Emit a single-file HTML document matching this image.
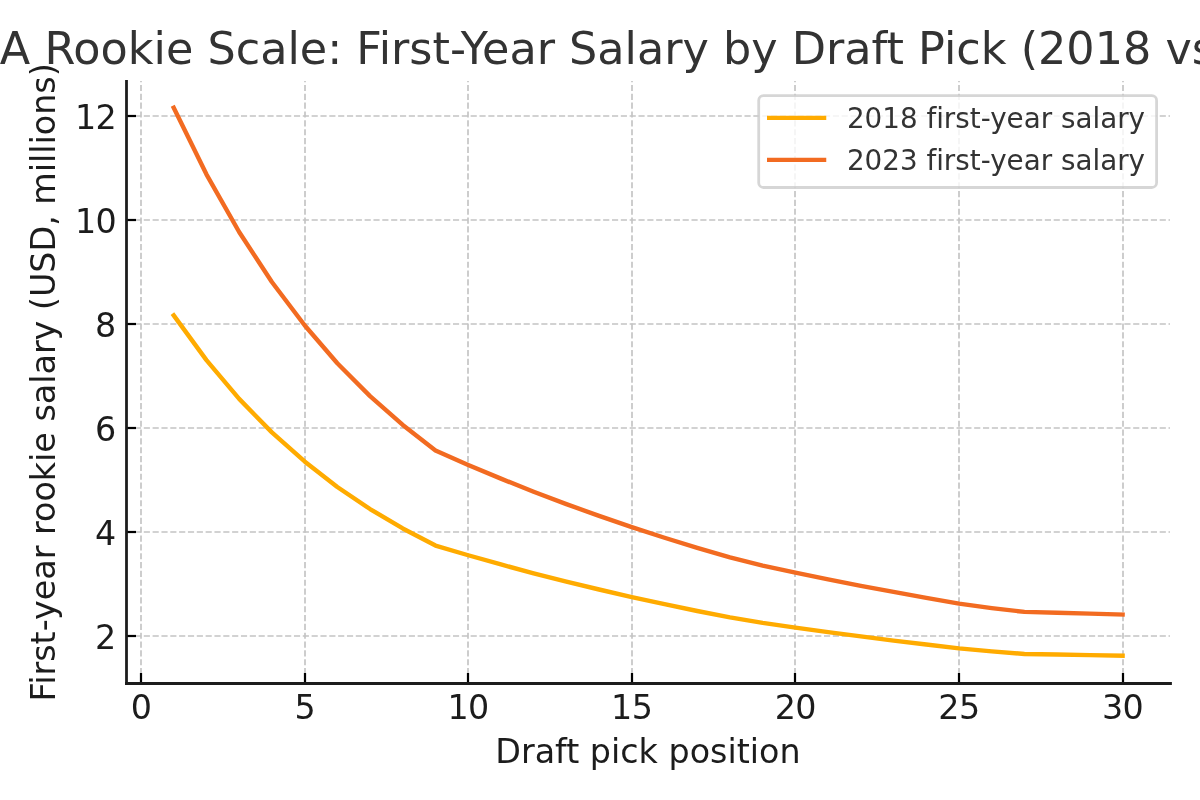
<!DOCTYPE html>
<html lang="en">
<head>
<meta charset="utf-8">
<title>NBA Rookie Scale: First-Year Salary by Draft Pick (2018 vs 2023)</title>
<style>
html,body{margin:0;padding:0;background:#fff;}
body{width:1200px;height:800px;overflow:hidden;}
svg{display:block;will-change:transform;}
svg text{font-family:"DejaVu Sans","Liberation Sans",sans-serif;filter:grayscale(1);font-variant-ligatures:none;font-feature-settings:"liga" 0,"clig" 0;}
</style>
</head>
<body>
<svg width="1200" height="800" viewBox="0 0 1200 800">
<rect x="0" y="0" width="1200" height="800" fill="#ffffff"/>
<g stroke="#c4c4c4" stroke-width="1.67" stroke-dasharray="6.167 2.667" fill="none">
<line x1="141.00" y1="683.00" x2="141.00" y2="81.00"/>
<line x1="305.00" y1="683.00" x2="305.00" y2="81.00"/>
<line x1="468.00" y1="683.00" x2="468.00" y2="81.00"/>
<line x1="632.00" y1="683.00" x2="632.00" y2="81.00"/>
<line x1="795.00" y1="683.00" x2="795.00" y2="81.00"/>
<line x1="959.00" y1="683.00" x2="959.00" y2="81.00"/>
<line x1="1123.00" y1="683.00" x2="1123.00" y2="81.00"/>
<line x1="126.10" y1="636.00" x2="1170.00" y2="636.00"/>
<line x1="126.10" y1="532.00" x2="1170.00" y2="532.00"/>
<line x1="126.10" y1="428.00" x2="1170.00" y2="428.00"/>
<line x1="126.10" y1="324.00" x2="1170.00" y2="324.00"/>
<line x1="126.10" y1="220.00" x2="1170.00" y2="220.00"/>
<line x1="126.10" y1="116.00" x2="1170.00" y2="116.00"/>
</g>
<polyline points="173.72,315.41 206.44,360.11 239.16,398.85 271.88,432.41 304.60,461.47 337.32,487.02 370.04,509.05 402.76,528.43 435.48,545.52 468.20,555.25 500.92,564.49 533.64,573.26 566.36,581.60 599.08,589.50 631.80,597.05 664.52,604.19 697.24,610.98 729.96,617.43 762.68,622.94 795.40,627.63 828.12,632.13 860.84,636.43 893.56,640.58 926.28,644.55 959.00,648.37 991.72,651.42 1024.44,653.97 1057.16,654.49 1089.88,655.12 1122.60,655.74" fill="none" stroke="#FFAB00" stroke-width="4.4" stroke-linecap="square" stroke-linejoin="round"/>
<polyline points="173.72,107.74 206.44,174.30 239.16,231.98 271.88,281.97 304.60,325.23 337.32,363.28 370.04,396.10 402.76,424.95 435.48,450.40 468.20,464.89 500.92,478.64 533.64,491.70 566.36,504.12 599.08,515.90 631.80,527.13 664.52,537.77 697.24,547.88 729.96,557.48 762.68,565.70 795.40,572.68 828.12,579.37 860.84,585.79 893.56,591.95 926.28,597.87 959.00,603.57 991.72,608.09 1024.44,611.90 1057.16,612.69 1089.88,613.61 1122.60,614.52" fill="none" stroke="#F26B21" stroke-width="4.4" stroke-linecap="square" stroke-linejoin="round"/>
<g stroke="#000000" stroke-width="2.22" fill="none">
<line x1="141.00" y1="683.50" x2="141.00" y2="673.0"/>
<line x1="305.00" y1="683.50" x2="305.00" y2="673.0"/>
<line x1="468.00" y1="683.50" x2="468.00" y2="673.0"/>
<line x1="632.00" y1="683.50" x2="632.00" y2="673.0"/>
<line x1="795.00" y1="683.50" x2="795.00" y2="673.0"/>
<line x1="959.00" y1="683.50" x2="959.00" y2="673.0"/>
<line x1="1123.00" y1="683.50" x2="1123.00" y2="673.0"/>
<line x1="126.50" y1="636.00" x2="136.0" y2="636.00"/>
<line x1="126.50" y1="532.00" x2="136.0" y2="532.00"/>
<line x1="126.50" y1="428.00" x2="136.0" y2="428.00"/>
<line x1="126.50" y1="324.00" x2="136.0" y2="324.00"/>
<line x1="126.50" y1="220.00" x2="136.0" y2="220.00"/>
<line x1="126.50" y1="116.00" x2="136.0" y2="116.00"/>
</g>
<g stroke="#1c1c1c" stroke-width="2.78" stroke-linecap="square" fill="none">
<line x1="126.50" y1="683.50" x2="126.50" y2="81.50"/>
<line x1="126.50" y1="683.50" x2="1170.50" y2="683.50"/>
</g>
<g fill="#1c1c1c" font-size="33.33px">
<text x="141.40" y="718.6" text-anchor="middle">0</text>
<text x="305.00" y="718.6" text-anchor="middle">5</text>
<text x="468.10" y="718.6" text-anchor="middle" letter-spacing="-0.6">10</text>
<text x="631.70" y="718.6" text-anchor="middle" letter-spacing="-0.6">15</text>
<text x="795.30" y="718.6" text-anchor="middle" letter-spacing="-0.6">20</text>
<text x="958.90" y="718.6" text-anchor="middle" letter-spacing="-0.6">25</text>
<text x="1122.50" y="718.6" text-anchor="middle" letter-spacing="-0.6">30</text>
<text x="116.2" y="649.40" text-anchor="end">2</text>
<text x="116.2" y="545.40" text-anchor="end">4</text>
<text x="116.2" y="441.40" text-anchor="end">6</text>
<text x="116.2" y="337.40" text-anchor="end">8</text>
<text x="116.2" y="233.40" text-anchor="end" letter-spacing="-0.6">10</text>
<text x="116.2" y="129.40" text-anchor="end" letter-spacing="-0.6">12</text>
<text x="647.9" y="763.1" text-anchor="middle">Draft pick position</text>
<text transform="translate(54.5 382.4) rotate(-90)" text-anchor="middle">First-year rookie salary (USD, millions)</text>
</g>
<text x="647.85" y="63.7" text-anchor="middle" font-size="44.50px" fill="#333333">NBA Rookie Scale: First-Year Salary by Draft Pick (2018 vs 2023)</text>
<rect x="758.7" y="95.6" width="397.90" height="91.90" rx="4.8" ry="4.8" fill="#ffffff" fill-opacity="0.8" stroke="#cccccc" stroke-opacity="0.8" stroke-width="2.78"/>
<line x1="769.20" y1="117.9" x2="824.06" y2="117.9" stroke="#FFAB00" stroke-width="4.4" stroke-linecap="square"/>
<text x="846.9" y="127.70" font-size="27.78px" fill="#333333">2018 first-year salary</text>
<line x1="769.20" y1="159.9" x2="824.06" y2="159.9" stroke="#F26B21" stroke-width="4.4" stroke-linecap="square"/>
<text x="846.9" y="169.70" font-size="27.78px" fill="#333333">2023 first-year salary</text>
</svg>
</body>
</html>
